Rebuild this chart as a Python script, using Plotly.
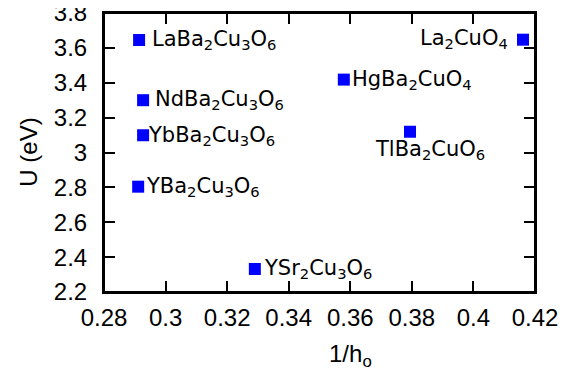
import plotly.graph_objects as go

# ---- data ----
compounds = ["LaBa<sub>2</sub>Cu<sub>3</sub>O<sub>6</sub>",
             "NdBa<sub>2</sub>Cu<sub>3</sub>O<sub>6</sub>",
             "YbBa<sub>2</sub>Cu<sub>3</sub>O<sub>6</sub>",
             "YBa<sub>2</sub>Cu<sub>3</sub>O<sub>6</sub>",
             "YSr<sub>2</sub>Cu<sub>3</sub>O<sub>6</sub>",
             "La<sub>2</sub>CuO<sub>4</sub>",
             "HgBa<sub>2</sub>CuO<sub>4</sub>",
             "TlBa<sub>2</sub>CuO<sub>6</sub>"]
inv_h = [0.2914, 0.2927, 0.2927, 0.2911, 0.3290, 0.4161, 0.3579, 0.3794]
U_eV = [3.645, 3.300, 3.099, 2.804, 2.332, 3.647, 3.418, 3.119]

x_ticks = [0.28, 0.30, 0.32, 0.34, 0.36, 0.38, 0.40, 0.42]
x_ticktext = ["0.28", "0.3", "0.32", "0.34", "0.36", "0.38", "0.4", "0.42"]
y_ticks = [2.2, 2.4, 2.6, 2.8, 3.0, 3.2, 3.4, 3.6, 3.8]
y_ticktext = ["2.2", "2.4", "2.6", "2.8", "3", "3.2", "3.4", "3.6", "3.8"]

# ---- label placement (style) ----
label_style = [  # (xanchor, yanchor, xshift, yshift)
    ("left", "middle", 11, 0),
    ("left", "middle", 10, 0),
    ("left", "middle", 3, -1),
    ("left", "middle", 6, 0),
    ("left", "middle", 7, 0),
    ("right", "middle", -13, 1),
    ("left", "middle", 6, 0),
    ("center", "top", 20, -3),
]

fig = go.Figure()
fig.add_trace(go.Scatter(
    x=inv_h, y=U_eV, mode="markers",
    marker=dict(symbol="square", size=12, color="#0000ff", line=dict(width=0)),
    showlegend=False, hoverinfo="skip", cliponaxis=False))

for name, xv, yv, (xa, ya, xs, ys) in zip(compounds, inv_h, U_eV, label_style):
    fig.add_annotation(x=xv, y=yv, text=name, showarrow=False,
                       xanchor=xa, yanchor=ya, xshift=xs, yshift=ys,
                       font=dict(family="DejaVu Sans", size=21, color="black"))

fig.add_annotation(x=0.571, y=-0.226, xref="paper", yref="paper", yanchor="middle",
                   text="1/h<sub>o</sub>", showarrow=False,
                   font=dict(family="Liberation Sans", size=24, color="black"))
fig.add_annotation(x=-0.176, y=0.5, xref="paper", yref="paper", xanchor="center",
                   yanchor="middle", textangle=-90,
                   text="U (eV)", showarrow=False,
                   font=dict(family="Liberation Sans", size=24, color="black"))

# frame around the plot area
fig.add_shape(type="rect", xref="paper", yref="paper", x0=0, x1=1, y0=0, y1=1,
              line=dict(color="black", width=2), layer="above")

axis_common = dict(showline=True, linecolor="black", linewidth=2, mirror="allticks",
                   ticks="inside", ticklen=11, tickwidth=2, tickcolor="black",
                   showgrid=False, zeroline=False,
                   ticklabeloverflow="allow",
                   tickfont=dict(family="Liberation Sans", size=24, color="black"))

fig.update_xaxes(range=[0.28, 0.42], tickvals=x_ticks, ticktext=x_ticktext,
                 ticklabelstandoff=3, automargin="bottom", **axis_common)
fig.update_yaxes(range=[2.2, 3.8], tickvals=y_ticks, ticktext=y_ticktext,
                 ticklabelstandoff=10, automargin="left", **axis_common)

# page body adds an 8px offset; margins compensate so the plot box lands where the reference has it
fig.update_layout(width=585, height=376, plot_bgcolor="white", paper_bgcolor="white",
                  margin=dict(l=96, r=58, t=5, b=92))

fig.write_html("out.html")
